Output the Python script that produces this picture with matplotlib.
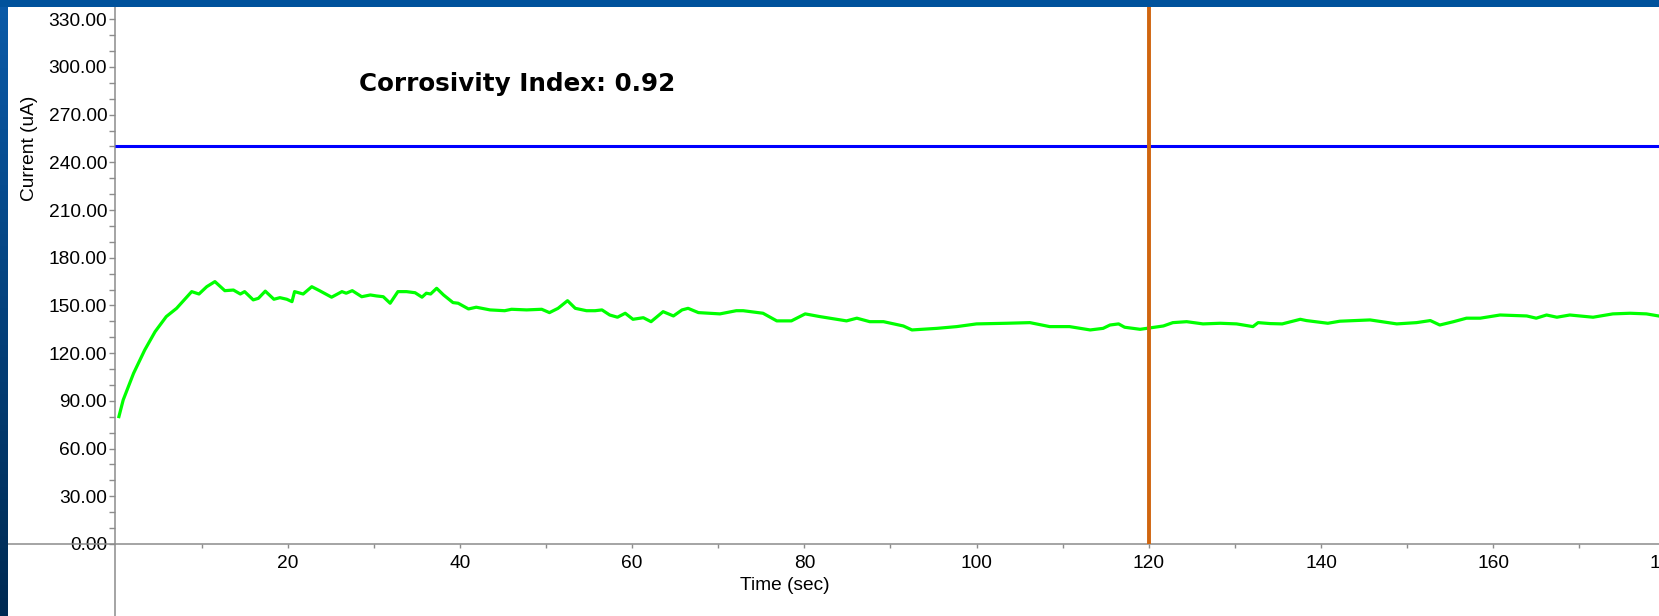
import numpy as np
import matplotlib.pyplot as plt
from matplotlib.ticker import FixedLocator, FormatStrFormatter

# current trace
time_s = [0.4, 0.9, 2.1, 3.4, 4.6, 5.9, 7.1, 8.85, 9.7, 10.6, 11.55, 12.7, 13.7, 14.5,
          15.0, 16.0, 16.6, 17.4, 18.4, 19.1, 19.9, 20.5, 20.8, 21.8, 22.8, 23.7, 25.1,
          26.3, 26.8, 27.5, 28.6, 29.6, 30.3, 31.1, 31.9, 32.8, 33.8, 34.8, 35.6, 36.1,
          36.6, 37.3, 38.1, 39.2, 39.8, 41.0, 41.9, 43.5, 45.2, 46.0, 47.75, 49.5, 50.4,
          51.4, 52.5, 53.4, 54.7, 55.7, 56.5, 57.4, 58.3, 59.2, 60.1, 61.3, 62.2, 63.6,
          64.8, 65.8, 66.5, 67.7, 70.2, 72.1, 72.9, 75.2, 76.8, 78.5, 80.1, 81.8, 84.9,
          86.1, 87.6, 89.2, 91.5, 92.5, 95.4, 97.7, 100.0, 103.5, 106.2, 108.5, 110.8,
          113.2, 114.7, 115.5, 116.5, 117.2, 119.0, 121.7, 122.8, 124.4, 126.3, 128.3,
          130.2, 132.1, 132.7, 134.1, 135.5, 137.6, 138.3, 140.8, 142.2, 145.7, 148.8,
          151.1, 152.7, 153.8, 155.4, 156.9, 158.5, 160.8, 163.9, 165.0, 166.2, 167.4,
          168.9, 171.6, 173.9, 175.9, 177.8, 179.2]
current_ua = [80.1, 90.6, 107.3, 122.0, 133.5, 143.0, 148.2, 158.7, 157.2, 161.8, 165.0,
              159.3, 159.7, 157.2, 158.7, 153.5, 154.5, 159.0, 153.9, 154.9, 153.9, 152.4,
              158.7, 157.2, 161.8, 159.3, 155.2, 158.7, 157.7, 159.3, 155.5, 156.6, 156.0,
              155.5, 151.4, 158.7, 158.7, 158.0, 155.2, 157.7, 157.2, 160.8, 156.6, 151.8,
              151.4, 147.8, 148.9, 147.2, 146.7, 147.6, 147.2, 147.6, 145.5, 148.2, 153.0,
              148.2, 146.7, 146.7, 147.2, 144.0, 142.6, 145.1, 141.3, 142.3, 139.8, 146.1,
              143.4, 147.2, 148.2, 145.5, 144.7, 146.7, 146.7, 145.1, 140.3, 140.3, 144.7,
              143.0, 140.3, 142.0, 139.8, 139.8, 137.1, 134.6, 135.6, 136.7, 138.4, 138.8,
              139.2, 136.7, 136.7, 134.6, 135.6, 137.7, 138.4, 136.3, 135.0, 137.1, 139.2,
              139.8, 138.4, 138.8, 138.4, 136.7, 139.2, 138.6, 138.4, 141.3, 140.5, 138.8,
              140.1, 140.9, 138.4, 139.2, 140.5, 137.7, 139.8, 142.0, 142.0, 144.0, 143.4,
              142.0, 144.0, 142.6, 144.0, 142.6, 144.7, 145.1, 144.7, 143.4]

limit_ua = 250
marker_s = 120
y_major = list(range(0, 331, 30))
y_minor = [v for v in range(0, 331, 10) if v % 30]
x_major = list(range(20, 181, 20))
x_minor = list(range(10, 180, 20))
index_text = "Corrosivity Index: 0.92"

W, H = 1659, 616
fig = plt.figure(figsize=(W / 100, H / 100), dpi=100)

# main axes, spines cross at the data origin
ax = fig.add_axes([8 / W, 0, 1666 / W, 609 / H])
ax.set_xlim(-12.48, 181)
ax.set_ylim(-45.3, 337.7)
for side in ["top", "right"]:
    ax.spines[side].set_visible(False)
for side in ["left", "bottom"]:
    ax.spines[side].set_position(("data", 0))
    ax.spines[side].set_color("#8c8c8c")
    ax.spines[side].set_linewidth(1.1)

ax.yaxis.set_major_locator(FixedLocator(y_major))
ax.yaxis.set_minor_locator(FixedLocator(y_minor))
ax.yaxis.set_major_formatter(FormatStrFormatter("%.2f"))
ax.xaxis.set_major_locator(FixedLocator(x_major))
ax.xaxis.set_minor_locator(FixedLocator(x_minor))
ax.tick_params(axis="both", which="both", direction="out", color="#8c8c8c", width=1,
               labelsize=13.8, labelcolor="black")
ax.tick_params(axis="y", which="both", length=4.5, pad=1.5)
ax.tick_params(axis="x", which="both", length=3, pad=5)
for lab in ax.get_xticklabels() + ax.get_yticklabels():
    lab.set_family("Liberation Sans")

ax.plot(time_s, current_ua, color="#00ff00", lw=2.3, zorder=3)
ax.hlines(limit_ua, 0, 181, color="#0000ff", lw=2.2, zorder=4)
ax.vlines(marker_s, 0, 337.7, color="#d0650f", lw=2.8, zorder=5)

fig.text(359 / W, 1 - 90.7 / H, index_text, family="DejaVu Sans", weight="bold",
         fontsize=17.7, va="baseline", ha="left")
fig.text(29 / W, 1 - 148 / H, "Current (uA)", family="Liberation Sans", fontsize=13.8,
         rotation=90, ha="center", va="center")
fig.text(784.7 / W, 1 - 586 / H, "Time (sec)", family="Liberation Sans", fontsize=13.8,
         ha="center", va="center")

# blue frame: gradient on the left, flat bar on top
left = fig.add_axes([0, 0, 8 / W, 1])
left.imshow(np.linspace(0, 1, 100).reshape(-1, 1),
            cmap=plt.matplotlib.colors.LinearSegmentedColormap.from_list(
                "frame", ["#0a5aa8", "#002a52"]),
            aspect="auto", extent=[0, 1, 0, 1], origin="upper")
left.axis("off")
top = fig.add_axes([0, 609 / H, 1, 7 / H])
top.set_facecolor("#00529c")
top.set_xticks([])
top.set_yticks([])
for s in top.spines.values():
    s.set_visible(False)

fig.savefig("out.png", dpi=100)
